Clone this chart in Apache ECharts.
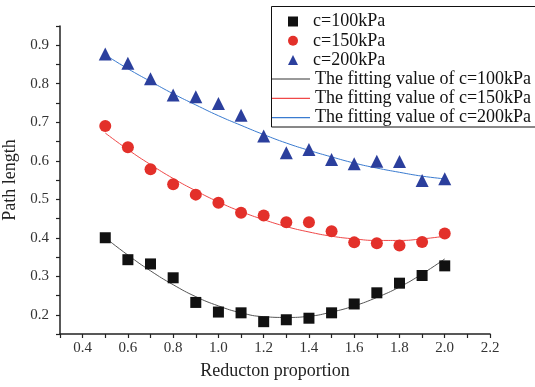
<!DOCTYPE html>
<html>
<head>
<meta charset="utf-8">
<script src="https://cdn.jsdelivr.net/npm/echarts@6/dist/echarts.min.js"></script>
<style>html,body{margin:0;padding:0;background:#fff;}#c{width:535px;height:387px;}</style>
</head>
<body>
<div id="c"></div>
<script>
var xValues = [0.5,0.6,0.7,0.8,0.9,1.0,1.1,1.2,1.3,1.4,1.5,1.6,1.7,1.8,1.9,2.0];
var c100 = [0.400,0.343,0.332,0.296,0.232,0.207,0.205,0.182,0.187,0.191,0.205,0.228,0.257,0.282,0.302,0.327];
var c150 = [0.690,0.635,0.578,0.539,0.512,0.491,0.465,0.458,0.440,0.440,0.417,0.388,0.386,0.380,0.389,0.411];
var c200 = [0.877,0.853,0.813,0.771,0.766,0.749,0.718,0.664,0.621,0.629,0.603,0.592,0.599,0.598,0.549,0.553];
var fit100 = [0.400,0.355,0.314,0.278,0.247,0.223,0.205,0.195,0.193,0.196,0.207,0.223,0.245,0.272,0.306,0.345];
var fit150 = [0.672,0.629,0.590,0.554,0.522,0.493,0.468,0.447,0.429,0.415,0.404,0.397,0.393,0.393,0.397,0.404];
var fit200 = [0.875,0.839,0.806,0.774,0.745,0.717,0.692,0.668,0.646,0.627,0.610,0.594,0.581,0.570,0.560,0.553];
var names = ['c=100kPa','c=150kPa','c=200kPa','The fitting value of c=100kPa','The fitting value of c=150kPa','The fitting value of c=200kPa'];

function pairs(ys){ return xValues.map(function(x,i){ return [x, ys[i]]; }); }

var font = '"Liberation Serif","Times New Roman",serif';
var chart = echarts.init(document.getElementById('c'), null, {renderer:'canvas'});
chart.setOption({
  animation:false,
  backgroundColor:'#fff',
  textStyle:{fontFamily:font},
  grid:{left:60,right:45,top:26,bottom:53,containLabel:false,outerBoundsMode:'none'},
  xAxis:{
    type:'value', min:0.3, max:2.2, interval:0.1,
    name:'Reducton proportion', nameLocation:'middle', nameGap:28,
    nameTextStyle:{fontFamily:font,fontSize:18,color:'#222'},
    axisLine:{lineStyle:{color:'#222',width:1.5}},
    axisTick:{inside:false,length:4,lineStyle:{color:'#222',width:1.2}},
    axisLabel:{margin:7,fontFamily:font,fontSize:15,color:'#333',
      formatter:function(v){ var k=Math.round(v*10); return (k%2===0)? (k/10).toFixed(1):''; }},
    splitLine:{show:false}
  },
  yAxis:{
    type:'value', min:0.15, max:0.95, interval:0.05,
    name:'Path length', nameLocation:'middle', nameGap:38,
    nameTextStyle:{fontFamily:font,fontSize:18,color:'#222'},
    axisLine:{show:true,lineStyle:{color:'#222',width:1.5}},
    axisTick:{show:true,inside:false,length:4,lineStyle:{color:'#222',width:1.2}},
    axisLabel:{margin:11,fontFamily:font,fontSize:15,color:'#333',
      formatter:function(v){ var k=Math.round(v*100); return (k%10===0)? (k/100).toFixed(1):''; }},
    splitLine:{show:false}
  },
  legend:[{
    data:[{name:names[0],icon:'rect'},{name:names[1],icon:'circle'},{name:names[2],icon:'triangle'}],
    orient:'vertical', left:283, top:7,
    itemWidth:10, itemHeight:10, itemGap:0.3,
    textStyle:{fontFamily:font,fontSize:18,color:'#111',lineHeight:19,padding:[0,0,0,10]}
  },{
    data:[{name:names[3],icon:'rect'},{name:names[4],icon:'rect'},{name:names[5],icon:'rect'}],
    orient:'vertical', left:267, top:64.5,
    itemWidth:38, itemHeight:1.3, itemGap:0.3,
    textStyle:{fontFamily:font,fontSize:18,color:'#111',lineHeight:19}
  }],
  graphic:[{type:'rect',shape:{x:271.5,y:6.5,width:300,height:120.5},style:{fill:'none',stroke:'#111',lineWidth:1},silent:true}],
  series:[
    {name:names[0],type:'scatter',data:pairs(c100),symbol:'rect',symbolSize:11,itemStyle:{color:'#111',opacity:1},z:5},
    {name:names[1],type:'scatter',data:pairs(c150),symbol:'circle',symbolSize:12,itemStyle:{color:'#e3302a',opacity:1},z:5},
    {name:names[2],type:'scatter',data:pairs(c200),symbol:'triangle',symbolSize:13,itemStyle:{color:'#2b3f9d',opacity:1},z:5},
    {name:names[3],type:'line',data:pairs(fit100),smooth:true,showSymbol:false,symbol:'none',lineStyle:{color:'#555',width:1},itemStyle:{color:'#777'},z:3},
    {name:names[4],type:'line',data:pairs(fit150),smooth:true,showSymbol:false,symbol:'none',lineStyle:{color:'#f04848',width:1},itemStyle:{color:'#f04848'},z:3},
    {name:names[5],type:'line',data:pairs(fit200),smooth:true,showSymbol:false,symbol:'none',lineStyle:{color:'#3a7bd0',width:1},itemStyle:{color:'#3a7bd0'},z:3}
  ]
});
</script>
</body>
</html>
